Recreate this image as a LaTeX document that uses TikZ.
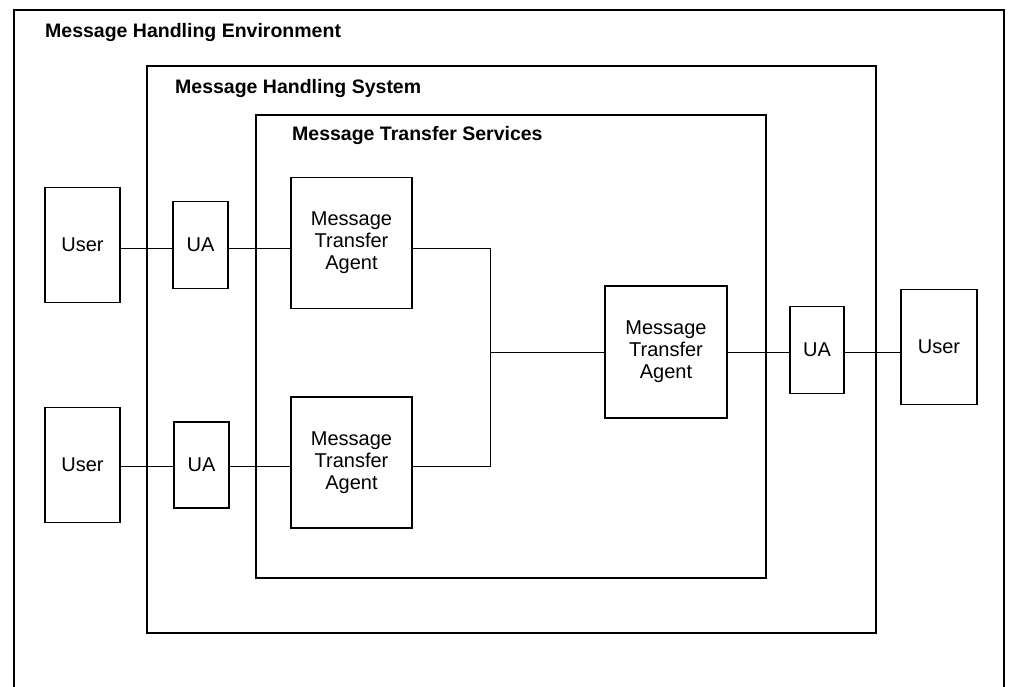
\documentclass[tikz,border=0pt]{standalone}
\usepackage{fontspec}
\setmainfont{Liberation Sans}
\begin{document}
\begin{tikzpicture}[x=1pt,y=-1pt,
  frame/.style={draw,line width=2.8pt},
  box/.style={draw,line width=1.7pt,inner sep=0pt,align=center,font=\fontsize{20}{22}\selectfont},
  conn/.style={line width=0.9pt},
  ttl/.style={anchor=base west,inner sep=0pt,font=\fontsize{19.5}{22}\selectfont\bfseries}]
\clip (0,0) rectangle (1009,686);
\fill[white] (0,0) rectangle (1009,686);
% frames
\draw[frame] (14,700) -- (14,10) -- (1004,10) -- (1004,700);
\draw[frame] (147,66) rectangle (876,633);
\draw[frame] (256,115) rectangle (766,578);
\node[ttl] (tmhe) at (45,37) {Message Handling Environment};
\node[ttl] (tmhs) at (175,93) {Message Handling System};
\node[ttl] (tmts) at (292,140) {Message Transfer Services};
% row 1
\node[box,minimum width=75,minimum height=115] (u1) at (82.5,245) {User};
\node[box,minimum width=55,minimum height=87] (a1) at (200.5,245) {UA};
\node[box,minimum width=121,minimum height=131] (m1) at (351.5,243) {Message\\Transfer\\Agent};
% row 2
\node[box,minimum width=75,minimum height=115] (u2) at (82.5,465) {User};
\node[box,minimum width=55,minimum height=86] (a2) at (201.5,465) {UA};
\node[box,minimum width=121,minimum height=131] (m2) at (351.5,462.5) {Message\\Transfer\\Agent};
% row 3
\node[box,minimum width=122,minimum height=132] (m3) at (666,352) {Message\\Transfer\\Agent};
\node[box,minimum width=54,minimum height=87] (a3) at (817,350) {UA};
\node[box,minimum width=76,minimum height=115] (u3) at (939,347) {User};
% connectors
\coordinate (j) at (490,352);
\draw[conn] (u1.east |- 0,248) -- (a1.west |- 0,248);
\draw[conn] (a1.east |- 0,248) -- (m1.west |- 0,248);
\draw[conn] (u2.east |- 0,466) -- (a2.west |- 0,466);
\draw[conn] (a2.east |- 0,466) -- (m2.west |- 0,466);
\draw[conn] (m1.east |- 0,248) -- (j |- 0,248) -- (j |- 0,466) -- (m2.east |- 0,466);
\draw[conn] (j) -- (m3.west |- j);
\draw[conn] (m3.east |- j) -- (a3.west |- j);
\draw[conn] (a3.east |- j) -- (u3.west |- j);
\end{tikzpicture}
\end{document}
